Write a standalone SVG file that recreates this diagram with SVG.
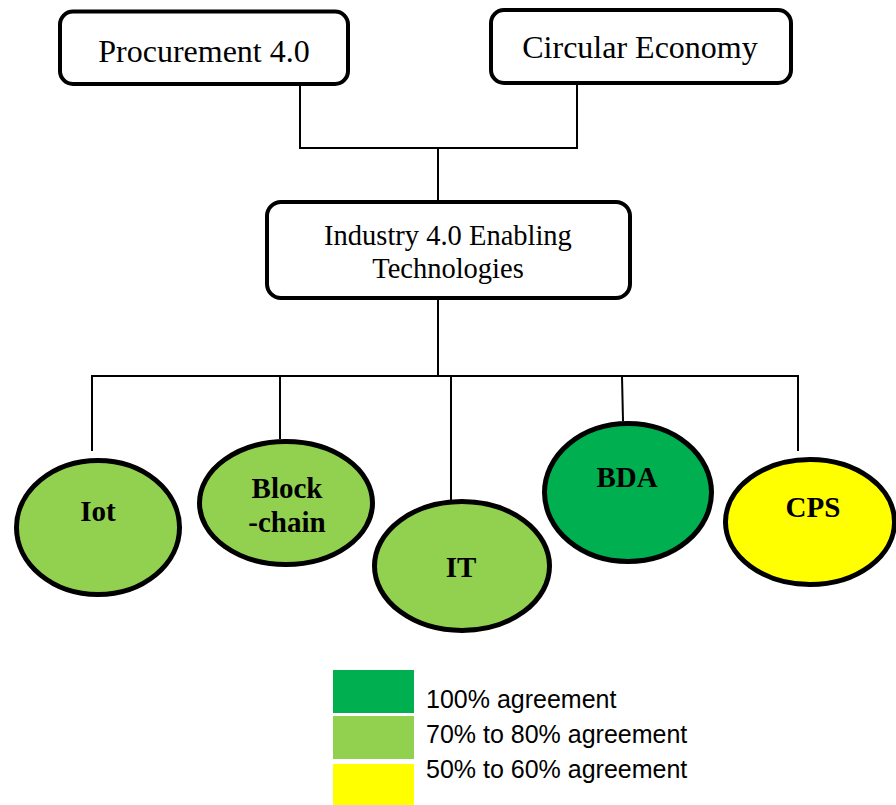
<svg xmlns="http://www.w3.org/2000/svg" width="896" height="805" viewBox="0 0 896 805">
  <style>
    .box { fill: #ffffff; stroke: #000000; stroke-width: 4; }
    .oval { stroke: #000000; stroke-width: 5; }
    .wire { fill: none; stroke: #000000; stroke-width: 2; }
    .title { font-family: "Liberation Serif", "Times New Roman", serif; font-size: 32px; fill: #000000; text-anchor: middle; }
    .title2 { font-family: "Liberation Serif", "Times New Roman", serif; font-size: 28.5px; fill: #000000; text-anchor: middle; }
    .tech { font-family: "Liberation Serif", "Times New Roman", serif; font-size: 29px; font-weight: bold; fill: #000000; text-anchor: middle; }
    .key { font-family: "Liberation Sans", Arial, sans-serif; font-size: 25px; fill: #000000; }
    .full { fill: #00B050; }
    .high { fill: #92D050; }
    .mid { fill: #FFFF00; }
  </style>

  <rect width="896" height="805" fill="#ffffff"/>

  <!-- connectors -->
  <g id="connectors">
    <path class="wire" d="M300,86 V148 H577 V85"/>
    <path class="wire" d="M438,148 V200"/>
    <path class="wire" d="M438,300 V376"/>
    <path class="wire" d="M92,451 V376 H798 V451"/>
    <path class="wire" d="M280,376 V439"/>
    <path class="wire" d="M451,376 V500"/>
    <path class="wire" d="M622,376 L623,421"/>
  </g>

  <!-- top-level concepts -->
  <g id="procurement">
    <rect class="box" x="60" y="11.5" width="288" height="72.5" rx="13"/>
    <text class="title" x="204" y="61.5">Procurement 4.0</text>
  </g>
  <g id="circular-economy">
    <rect class="box" x="491" y="10" width="300" height="73" rx="13"/>
    <text class="title" x="640" y="57.5">Circular Economy</text>
  </g>

  <g id="industry">
    <rect class="box" x="267" y="202" width="363" height="96" rx="14"/>
    <text class="title2" x="448" y="245">Industry 4.0 Enabling</text>
    <text class="title2" x="448" y="278">Technologies</text>
  </g>

  <!-- enabling technologies -->
  <g id="iot">
    <ellipse class="oval high" cx="98" cy="527.5" rx="81.5" ry="67"/>
    <text class="tech" x="98" y="521">Iot</text>
  </g>
  <g id="blockchain">
    <ellipse class="oval high" cx="286" cy="503" rx="86.5" ry="61.5"/>
    <text class="tech" x="287" y="498">Block</text>
    <text class="tech" x="287" y="532">-chain</text>
  </g>
  <g id="it">
    <ellipse class="oval high" cx="462" cy="566" rx="87.5" ry="64.5"/>
    <text class="tech" x="461" y="577">IT</text>
  </g>
  <g id="bda">
    <ellipse class="oval full" cx="628" cy="492.5" rx="83.5" ry="69"/>
    <text class="tech" x="627" y="487">BDA</text>
  </g>
  <g id="cps">
    <ellipse class="oval mid" cx="810" cy="522" rx="84.5" ry="62.5"/>
    <text class="tech" x="813" y="517">CPS</text>
  </g>

  <!-- legend -->
  <g id="legend">
    <rect class="full" x="333" y="670" width="81" height="43"/>
    <rect class="high" x="333" y="716" width="81" height="43"/>
    <rect class="mid" x="333" y="764" width="81" height="41"/>
    <text class="key" x="426" y="708">100% agreement</text>
    <text class="key" x="426" y="743">70% to 80% agreement</text>
    <text class="key" x="426" y="778">50% to 60% agreement</text>
  </g>
</svg>
